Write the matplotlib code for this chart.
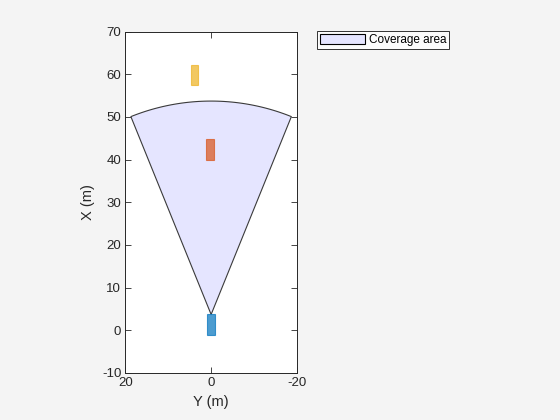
import numpy as np
import matplotlib.pyplot as plt
from matplotlib.patches import Rectangle, Polygon

plt.rcParams['font.family'] = ['Liberation Sans', 'DejaVu Sans']
plt.rcParams['axes.unicode_minus'] = False

# Sensor coverage (ego mounted at front bumper)
sensor_x = 3.7        # m, along X
sensor_y = 0.0        # m, along Y
sensor_range = 50.0   # m
sensor_fov = 44.0     # deg

# Vehicles: rear X, center Y, length, width
veh_rear_x = [-1.0, 39.9, 57.5]
veh_center_y = [0.0, 0.3, 3.9]
veh_length = [4.7, 4.9, 4.7]
veh_width = [1.8, 1.8, 1.8]
veh_face = ['#0072BD', '#D95319', '#EDB120']

x_ticks = [20, 0, -20]
y_ticks = [-10, 0, 10, 20, 30, 40, 50, 60, 70]

fig = plt.figure(figsize=(5.6, 4.2), dpi=100)
fig.patch.set_facecolor('#f4f4f4')
ax = fig.add_axes([0.224, 0.112, 0.306, 0.813])

# Coverage wedge, in (Y, X) plot coordinates
ang = np.radians(np.linspace(-sensor_fov / 2, sensor_fov / 2, 60))
arc_y = sensor_y + sensor_range * np.sin(ang)
arc_x = sensor_x + sensor_range * np.cos(ang)
pts = np.column_stack([np.r_[sensor_y, arc_y], np.r_[sensor_x, arc_x]])
cov = Polygon(pts, closed=True, facecolor='#e5e5ff', edgecolor='#3a3a3a',
              linewidth=0.8, label='Coverage area', zorder=2)
ax.add_patch(cov)

for rx, cy, L, W, c in zip(veh_rear_x, veh_center_y, veh_length, veh_width, veh_face):
    ax.add_patch(Rectangle((cy - W / 2, rx), W, L, facecolor=c, alpha=0.7,
                           edgecolor=c, linewidth=0.8, zorder=3))

ax.set_xlim(20, -20)
ax.set_ylim(-10, 70)
ax.set_xticks(x_ticks)
ax.set_yticks(y_ticks)
ax.tick_params(direction='in', top=True, right=True, length=4, width=0.6,
               labelsize=9.5, colors='#262626', pad=3)
for s in ax.spines.values():
    s.set_linewidth(0.7)
    s.set_color('#262626')
ax.set_xlabel('Y (m)', fontsize=10.5, color='#262626', labelpad=4)
ax.set_ylabel('X (m)', fontsize=10.5, color='#262626', labelpad=5)

leg = ax.legend(loc='upper left', bbox_to_anchor=(1.12, 1.0), fontsize=8.5,
                frameon=True, fancybox=False, edgecolor='black',
                borderpad=0.25, handlelength=3.8, handleheight=0.9,
                handletextpad=0.3, borderaxespad=0.0)
leg.get_frame().set_linewidth(0.7)
for h in leg.legend_handles:
    h.set_edgecolor('black')

fig.savefig('out.png', dpi=100, facecolor=fig.get_facecolor())
